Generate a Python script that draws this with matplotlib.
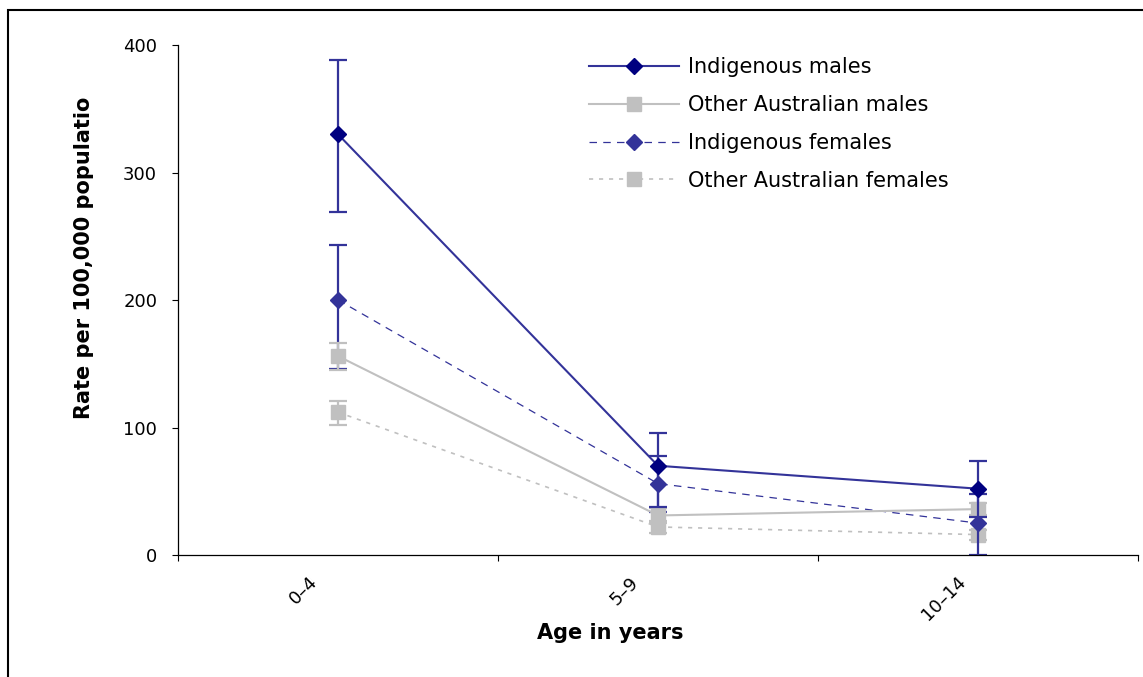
import matplotlib.pyplot as plt
import matplotlib.transforms as mtransforms
import numpy as np
from matplotlib.patches import Rectangle

plt.rcParams["font.family"] = ["DejaVu Sans"]

age_groups = ["0\u20134", "5\u20139", "10\u201314"]

indig_males = [330, 70, 52]
indig_males_lo = [269, 38, 30]
indig_males_hi = [388, 96, 74]

other_males = [156, 31, 36]
other_males_lo = [145, 25, 31]
other_males_hi = [166, 37, 41]

indig_females = [200, 56, 25]
indig_females_lo = [146, 34, 0]
indig_females_hi = [243, 78, 48]

other_females = [112, 22, 16]
other_females_lo = [102, 17, 12]
other_females_hi = [121, 27, 20]

NAVY = "#000080"
BLUE = "#333399"
GREY = "#C0C0C0"

W, H = 1143, 677
fig = plt.figure(figsize=(W / 100, H / 100), dpi=100)
ax = fig.add_axes([178 / W, 1 - 555 / H, 960 / W, 510 / H])

# outer frame of the chart area
fig.patches.append(Rectangle((8 / W, -0.05), 1.1, 1 - 10 / H + 0.05,
                             transform=fig.transFigure, fill=False,
                             edgecolor="black", linewidth=1.5))

x = np.arange(len(age_groups))


def errs(v, lo, hi):
    v = np.array(v)
    return [v - np.array(lo), np.array(hi) - v]


series = [
    (other_females, other_females_lo, other_females_hi, GREY, GREY, "s", 9.5,
     (0, (2.5, 3.5)), 1.2, "Other Australian females"),
    (indig_females, indig_females_lo, indig_females_hi, BLUE, BLUE, "D", 8,
     (0, (6, 5)), 0.9, "Indigenous females"),
    (other_males, other_males_lo, other_males_hi, GREY, GREY, "s", 9.5,
     "-", 1.5, "Other Australian males"),
    (indig_males, indig_males_lo, indig_males_hi, BLUE, NAVY, "D", 8,
     "-", 1.5, "Indigenous males"),
]

handles = {}
for vals, lo, hi, lc, mc, mk, ms, ls, lw, name in series:
    ax.errorbar(x, vals, yerr=errs(vals, lo, hi), fmt="none",
                ecolor=lc, elinewidth=1.6, capsize=6.5, capthick=1.6)
    (h,) = ax.plot(x, vals, color=lc, linestyle=ls, linewidth=lw,
                   marker=mk, markersize=ms, markerfacecolor=mc,
                   markeredgecolor=mc, label=name)
    handles[name] = h

order = ["Indigenous males", "Other Australian males",
         "Indigenous females", "Other Australian females"]
ax.legend([handles[n] for n in order], order, loc="upper left",
          bbox_to_anchor=((589 - 178) / 960, (555 - 57) / 510),
          frameon=False, fontsize=15, borderaxespad=0, borderpad=0,
          handlelength=4.3, labelspacing=0.86, handletextpad=0.45)

ax.set_xlim(-0.5, 2.5)
ax.set_ylim(0, 400)
ax.set_yticks([0, 100, 200, 300, 400])
ax.tick_params(axis="y", labelsize=13, length=4.5, width=0.8,
               direction="out", pad=10.5)

ax.set_xticks(x)
ax.set_xticklabels(age_groups, rotation=45, ha="center")
ax.set_xticks([-0.5, 0.5, 1.5, 2.5], minor=True)
ax.tick_params(axis="x", which="major", length=0, labelsize=13, pad=13)
ax.tick_params(axis="x", which="minor", length=4.5, width=0.8, direction="out")
shift = mtransforms.ScaledTranslation(-0.34, 0, fig.dpi_scale_trans)
for lbl in ax.get_xticklabels():
    lbl.set_transform(lbl.get_transform() + shift)

for s in ["top", "right"]:
    ax.spines[s].set_visible(False)
for s in ["left", "bottom"]:
    ax.spines[s].set_linewidth(0.9)

ax.set_ylabel("Rate per 100,000 populatio", fontsize=15, fontweight="bold")
ax.yaxis.set_label_coords((94 - 178) / 960, (555 - 258) / 510)
fig.text(610 / W, 1 - 633 / H, "Age in years", fontsize=15,
         fontweight="bold", ha="center", va="center")

fig.savefig("out.png", dpi=100)
